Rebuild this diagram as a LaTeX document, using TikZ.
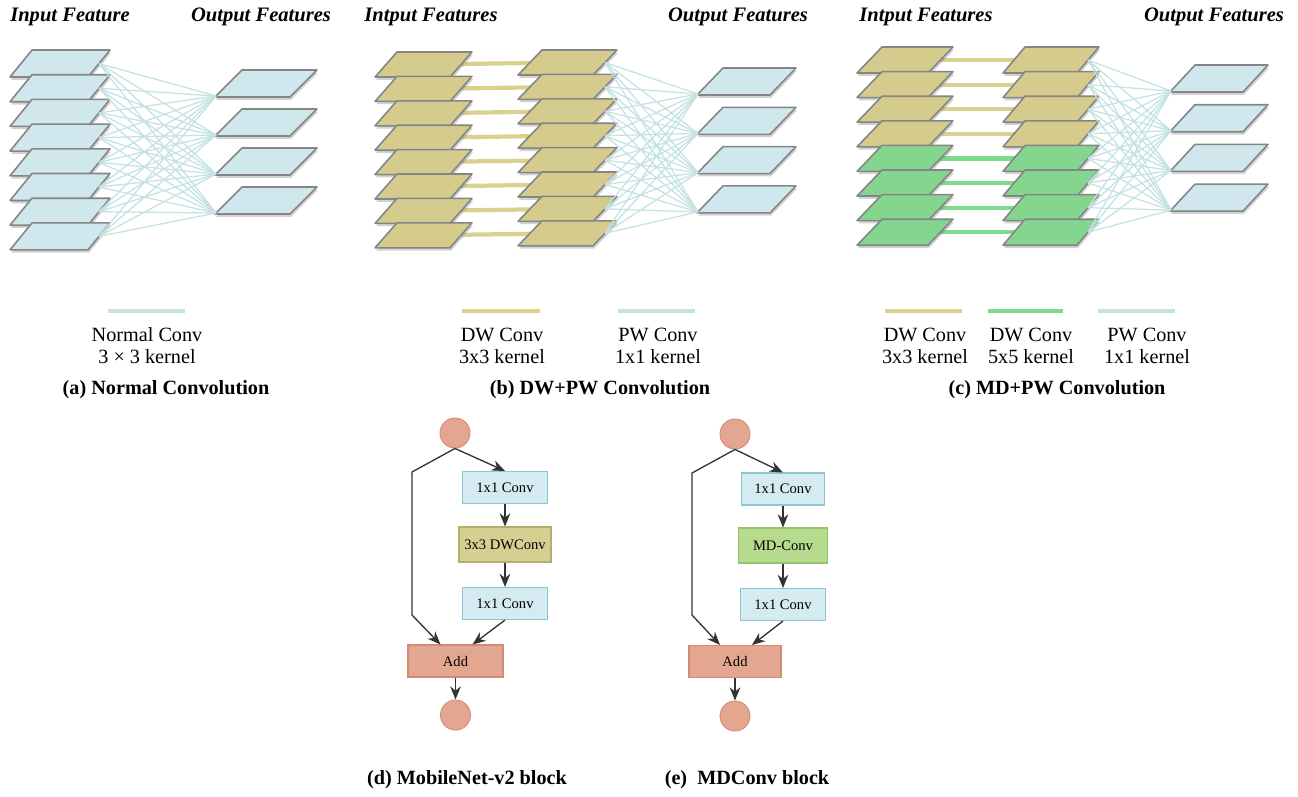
\documentclass[tikz,border=0pt]{standalone}
\usepackage{fontspec}
\setmainfont{Liberation Serif}
\usetikzlibrary{shadows,arrows.meta}

\definecolor{featblue}{HTML}{CFE7ED}
\definecolor{feattan}{HTML}{D5CB8D}
\definecolor{featgreen}{HTML}{84D68F}
\definecolor{planeedge}{HTML}{858585}
\definecolor{pwline}{HTML}{C4E2E2}
\definecolor{dwline}{HTML}{D9D28F}
\definecolor{mdline}{HTML}{7FDB8C}
\definecolor{nodesalmon}{HTML}{E3A690}
\definecolor{salmonedge}{HTML}{D48A76}
\definecolor{boxblue}{HTML}{D3EBF1}
\definecolor{boxblueedge}{HTML}{8CC6D2}
\definecolor{boxtan}{HTML}{D5CF91}
\definecolor{boxtanedge}{HTML}{B4AE6E}
\definecolor{boxgreen}{HTML}{B6DB8D}
\definecolor{boxgreenedge}{HTML}{93C46E}
\definecolor{arrowgray}{HTML}{333333}

\tikzset{
  plane/.style={draw=planeedge, line width=0.9pt, line join=round,
    drop shadow={shadow xshift=0.6pt, shadow yshift=-1.6pt, opacity=0.35}},
  pwconn/.style={pwline, line width=0.7pt},
  bar/.style={line width=2.4pt},
  swatch/.style={line width=2.5pt},
  title/.style={font=\fontsize{11.7}{14}\selectfont\bfseries\itshape},
  legtext/.style={font=\fontsize{11.5}{12.6}\selectfont, align=center},
  caption/.style={font=\fontsize{11.5}{14}\selectfont\bfseries},
  layer/.style={draw, line width=0.6pt, minimum width=1.7cm, minimum height=0.64cm,
    inner sep=0pt, font=\fontsize{8.3}{10}\selectfont},
  io/.style={circle, draw=salmonedge, fill=nodesalmon, line width=0.5pt,
    minimum size=0.6cm, inner sep=0pt},
  flow/.style={draw=arrowgray, line width=0.75pt, -{Stealth[length=7.5pt,width=6pt]}},
}

\begin{document}
\begin{tikzpicture}[x=0.02cm, y=-0.02cm]
    \path[fill=white] (0,0) rectangle (1298,796);
    \useasboundingbox (0,0) rectangle (1298,796);

    % Draw the titles
    \node[title] (a-tin) at (70,17) {Input Feature};
    \node[title] (a-tout) at (261,17) {Output Features};
    \node[title] (b-tin) at (431,17) {Intput Features};
    \node[title] (b-tout) at (738,17) {Output Features};
    \node[title] (c-tin) at (926,17) {Intput Features};
    \node[title] (c-tout) at (1214,17) {Output Features};

    % (a) Draw the input planes
    \foreach \i in {0,...,7} {
        \draw[plane, fill=featblue] (10,77+24.7*\i) -- ++(78,0) -- ++(22,-27) -- ++(-78,0) -- cycle;
        \coordinate (a-in-\i) at (99,63.5+24.7*\i);
    }
    % (a) Draw the output planes
    \foreach \k in {0,...,3} {
        \draw[plane, fill=featblue] (215,97+39*\k) -- ++(75,0) -- ++(27,-27) -- ++(-75,0) -- cycle;
        \coordinate (a-out-\k) at (216,96+39*\k);
    }
    % (a) Draw the normal conv links
    \foreach \i in {0,...,7}
        \foreach \k in {0,...,3}
            \draw[pwconn] (a-in-\i) -- (a-out-\k);

    % (b) Draw the depthwise bars
    \foreach \i in {0,...,7} {
        \coordinate (b-in-\i) at (423,64.5+24.4*\i);
        \coordinate (b-mid-\i) at (567,62.5+24.4*\i);
        \draw[bar, dwline] (b-in-\i) -- (b-mid-\i);
    }
    % (b) Draw the input and middle planes
    \foreach \i in {0,...,7} {
        \draw[plane, fill=feattan] (375,77+24.4*\i) -- ++(75,0) -- ++(22,-25) -- ++(-75,0) -- cycle;
        \draw[plane, fill=feattan] (518,75+24.4*\i) -- ++(75,0) -- ++(24,-25) -- ++(-75,0) -- cycle;
        \coordinate (b-mr-\i) at (605,62.5+24.4*\i);
    }
    % (b) Draw the output planes
    \foreach \k in {0,...,3} {
        \draw[plane, fill=featblue] (697,95+39.3*\k) -- ++(73,0) -- ++(26,-27) -- ++(-73,0) -- cycle;
        \coordinate (b-out-\k) at (698,94+39.3*\k);
    }
    % (b) Draw the pointwise links
    \foreach \i in {0,...,7}
        \foreach \k in {0,...,3}
            \draw[pwconn] (b-mr-\i) -- (b-out-\k);

    % (c) Draw the mixed depthwise bars
    \foreach \i/\bcol in {0/dwline,1/dwline,2/dwline,3/dwline,4/mdline,5/mdline,6/mdline,7/mdline} {
        \coordinate (c-in-\i) at (905,60+24.6*\i);
        \coordinate (c-mid-\i) at (1051,60+24.6*\i);
        \draw[bar, \bcol] (c-in-\i) -- (c-mid-\i);
    }
    % (c) Draw the input and middle planes
    \foreach \i/\col in {0/feattan,1/feattan,2/feattan,3/feattan,4/featgreen,5/featgreen,6/featgreen,7/featgreen} {
        \draw[plane, fill=\col] (857,73+24.6*\i) -- ++(71,0) -- ++(25,-26) -- ++(-71,0) -- cycle;
        \draw[plane, fill=\col] (1003,73+24.6*\i) -- ++(74,0) -- ++(22,-26) -- ++(-74,0) -- cycle;
        \coordinate (c-mr-\i) at (1088,60+24.6*\i);
    }
    % (c) Draw the output planes
    \foreach \k in {0,...,3} {
        \draw[plane, fill=featblue] (1170,92+39.7*\k) -- ++(73,0) -- ++(25,-27) -- ++(-73,0) -- cycle;
        \coordinate (c-out-\k) at (1171,91+39.7*\k);
    }
    % (c) Draw the pointwise links
    \foreach \i in {0,...,7}
        \foreach \k in {0,...,3}
            \draw[pwconn] (c-mr-\i) -- (c-out-\k);

    % Draw the legends
    \draw[swatch, pwline] (108,311) -- (185,311);
    \node[legtext] (a-leg) at (147,346) {Normal Conv\\3 × 3 kernel};
    \draw[swatch, dwline] (462,311) -- (540,311);
    \node[legtext] (b-leg1) at (502,346) {DW Conv\\3x3 kernel};
    \draw[swatch, pwline] (618,311) -- (695,311);
    \node[legtext] (b-leg2) at (658,346) {PW Conv\\1x1 kernel};
    \draw[swatch, dwline] (885,311) -- (962,311);
    \node[legtext] (c-leg1) at (925,346) {DW Conv\\3x3 kernel};
    \draw[swatch, mdline] (988,311) -- (1063,311);
    \node[legtext] (c-leg2) at (1031,346) {DW Conv\\5x5 kernel};
    \draw[swatch, pwline] (1098,311) -- (1175,311);
    \node[legtext] (c-leg3) at (1147,346) {PW Conv\\1x1 kernel};

    % Draw the captions
    \node[caption] (a-cap) at (166,390) {(a) Normal Convolution};
    \node[caption] (b-cap) at (600,390) {(b) DW+PW Convolution};
    \node[caption] (c-cap) at (1057,390) {(c) MD+PW Convolution};

    % (d) MobileNet-v2 block
    \node[io] (d-top) at (455,433) {};
    \node[layer, draw=boxblueedge, fill=boxblue] (d-c1) at (505,487.5) {1x1 Conv};
    \node[layer, draw=boxtanedge, fill=boxtan, minimum width=1.84cm, minimum height=0.7cm] (d-dw) at (505,544.5) {3x3 DWConv};
    \node[layer, draw=boxblueedge, fill=boxblue] (d-c2) at (505,603.5) {1x1 Conv};
    \node[layer, draw=salmonedge, fill=nodesalmon, minimum width=1.9cm] (d-add) at (455.5,661) {Add};
    \node[io] (d-bot) at (455.5,715) {};
    \coordinate (d-sk1) at (412,472);
    \coordinate (d-sk2) at (412,615);
    \draw[flow] (d-top.south) -- (d-c1.north);
    \draw[flow] (d-c1) -- (d-dw);
    \draw[flow] (d-dw) -- (d-c2);
    \draw[flow] (d-top.south) -- (d-sk1) -- (d-sk2) -- ([xshift=-0.3cm]d-add.north);
    \draw[flow] (d-c2.south) -- ([xshift=0.34cm]d-add.north);
    \draw[flow] (d-add) -- (d-bot);
    \node[caption] (d-cap) at (467,780) {(d) MobileNet-v2 block};

    % (e) MDConv block
    \node[io] (e-top) at (735,434) {};
    \node[layer, draw=boxblueedge, fill=boxblue, minimum width=1.66cm] (e-c1) at (783,489) {1x1 Conv};
    \node[layer, draw=boxgreenedge, fill=boxgreen, minimum width=1.78cm, minimum height=0.7cm] (e-md) at (783,545.5) {MD-Conv};
    \node[layer, draw=boxblueedge, fill=boxblue] (e-c2) at (783,604.5) {1x1 Conv};
    \node[layer, draw=salmonedge, fill=nodesalmon, minimum width=1.84cm] (e-add) at (735,661.5) {Add};
    \node[io] (e-bot) at (735,716) {};
    \coordinate (e-sk1) at (692,473);
    \coordinate (e-sk2) at (692,615);
    \draw[flow] (e-top.south) -- (e-c1.north);
    \draw[flow] (e-c1) -- (e-md);
    \draw[flow] (e-md) -- (e-c2);
    \draw[flow] (e-top.south) -- (e-sk1) -- (e-sk2) -- ([xshift=-0.3cm]e-add.north);
    \draw[flow] (e-c2.south) -- ([xshift=0.34cm]e-add.north);
    \draw[flow] (e-add) -- (e-bot);
    \node[caption] (e-cap) at (747,780) {(e)\ \ MDConv block};
\end{tikzpicture}
\end{document}
